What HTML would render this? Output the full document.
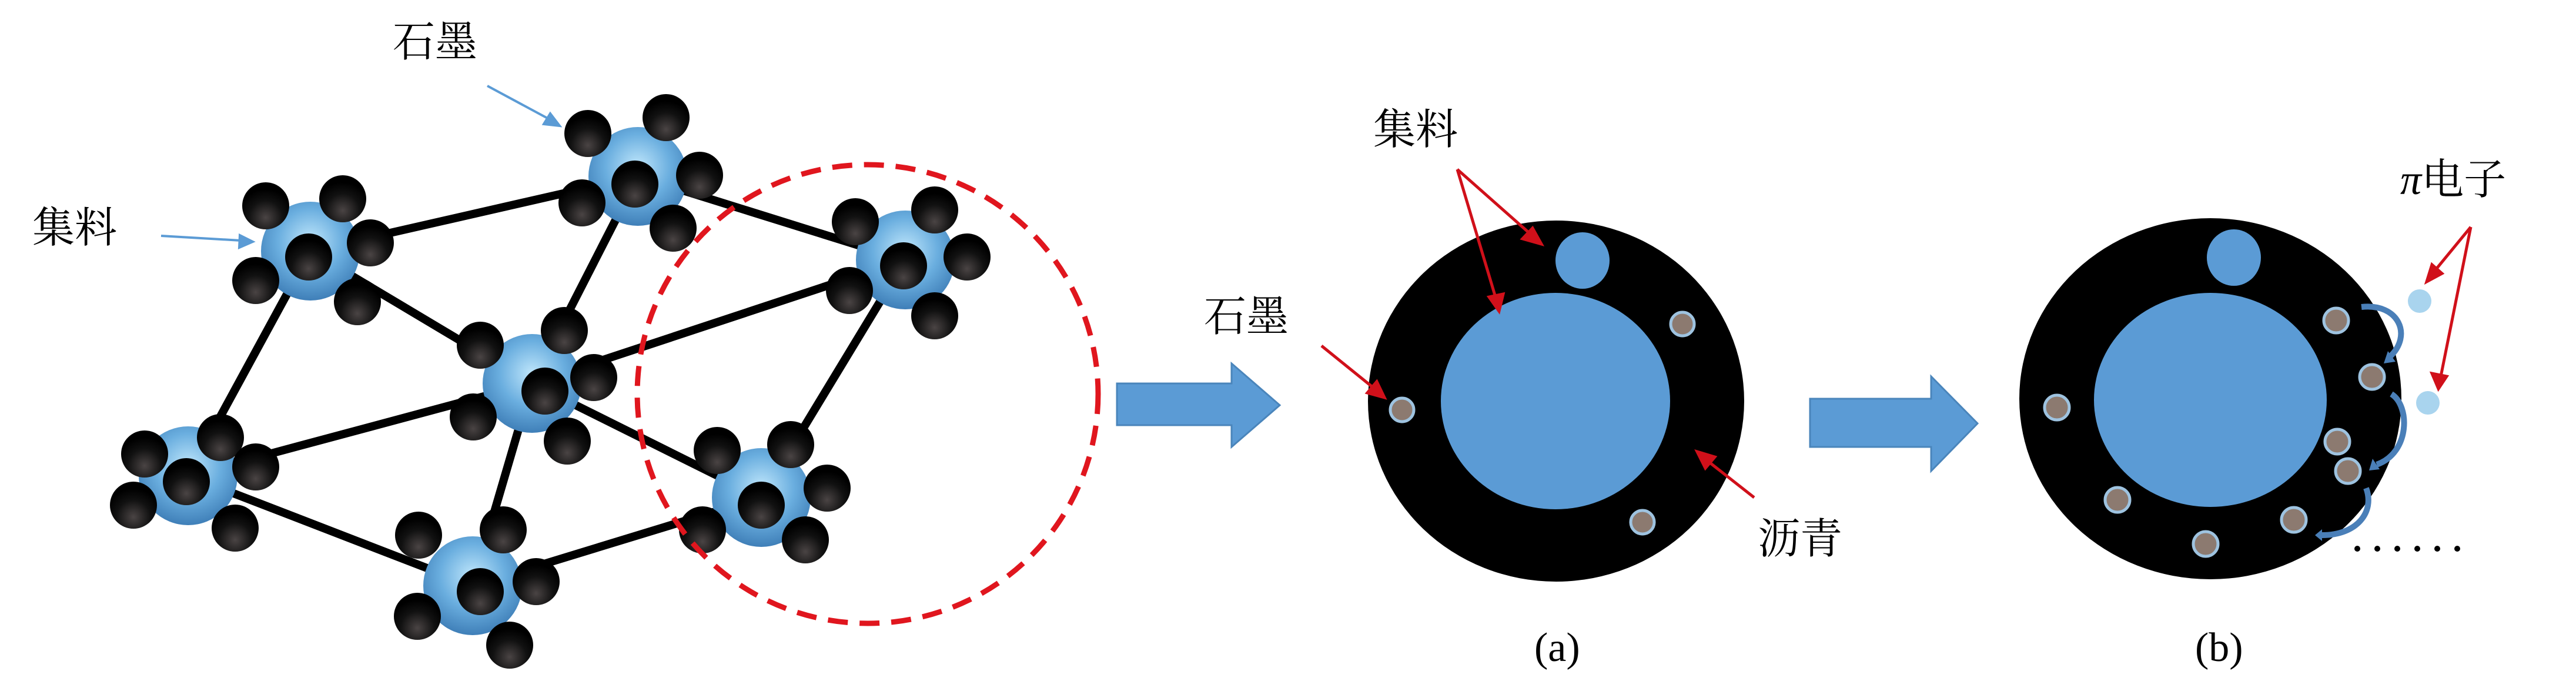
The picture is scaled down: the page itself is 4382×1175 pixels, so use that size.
<!DOCTYPE html>
<html><head><meta charset="utf-8"><style>
html,body{margin:0;padding:0;background:#fff;}
svg{display:block;}
.cj{font-family:"Liberation Serif","Noto Serif CJK SC",serif;font-size:72px;fill:#000;}
</style></head><body>
<svg width="4382" height="1175" viewBox="0 0 4382 1175" xmlns="http://www.w3.org/2000/svg">
<defs>
<radialGradient id="sph" cx="0.5" cy="0.4" r="0.6">
<stop offset="0" stop-color="#bfe6fb"/><stop offset="0.55" stop-color="#6aaedf"/><stop offset="1" stop-color="#3f7fb8"/>
</radialGradient>
<radialGradient id="bal" cx="0.5" cy="0.75" r="0.6">
<stop offset="0" stop-color="#4a4444"/><stop offset="0.6" stop-color="#111"/><stop offset="1" stop-color="#000"/>
</radialGradient>
</defs>

<g stroke="#000" stroke-width="14" stroke-linecap="round">
<line x1="528" y1="427" x2="1085" y2="300"/>
<line x1="528" y1="427" x2="905" y2="652"/>
<line x1="528" y1="427" x2="320" y2="809"/>
<line x1="1085" y1="300" x2="905" y2="652"/>
<line x1="1085" y1="300" x2="1540" y2="442"/>
<line x1="1540" y1="442" x2="905" y2="652"/>
<line x1="1540" y1="442" x2="1295" y2="846"/>
<line x1="905" y1="652" x2="1295" y2="846"/>
<line x1="905" y1="652" x2="320" y2="809"/>
<line x1="905" y1="652" x2="804" y2="996"/>
<line x1="320" y1="809" x2="804" y2="996"/>
<line x1="804" y1="996" x2="1295" y2="846"/>
</g>

<g>
<g transform="translate(528,427)">
<circle r="84" fill="url(#sph)"/>
<g fill="url(#bal)"><circle cx="-76" cy="-77" r="40"/><circle cx="55" cy="-89" r="40"/><circle cx="102" cy="-14" r="40"/><circle cx="-3" cy="10" r="40"/><circle cx="-93" cy="50" r="40"/><circle cx="80" cy="86" r="40"/></g>
</g>
<g transform="translate(1085,300)">
<circle r="84" fill="url(#sph)"/>
<g fill="url(#bal)"><circle cx="-85" cy="-73" r="40"/><circle cx="48" cy="-100" r="40"/><circle cx="105" cy="-2" r="40"/><circle cx="-5" cy="13" r="40"/><circle cx="-95" cy="45" r="40"/><circle cx="60" cy="88" r="40"/></g>
</g>
<g transform="translate(1540,442)">
<circle r="84" fill="url(#sph)"/>
<g fill="url(#bal)"><circle cx="-85" cy="-65" r="40"/><circle cx="50" cy="-85" r="40"/><circle cx="105" cy="-5" r="40"/><circle cx="-3" cy="10" r="40"/><circle cx="-95" cy="52" r="40"/><circle cx="50" cy="95" r="40"/></g>
</g>
<g transform="translate(905,652)">
<circle r="84" fill="url(#sph)"/>
<g fill="url(#bal)"><circle cx="-88" cy="-65" r="40"/><circle cx="55" cy="-90" r="40"/><circle cx="105" cy="-10" r="40"/><circle cx="22" cy="13" r="40"/><circle cx="-100" cy="57" r="40"/><circle cx="60" cy="98" r="40"/></g>
</g>
<g transform="translate(320,809)">
<circle r="84" fill="url(#sph)"/>
<g fill="url(#bal)"><circle cx="-74" cy="-37" r="40"/><circle cx="55" cy="-65" r="40"/><circle cx="115" cy="-15" r="40"/><circle cx="-3" cy="10" r="40"/><circle cx="-93" cy="50" r="40"/><circle cx="80" cy="89" r="40"/></g>
</g>
<g transform="translate(1295,846)">
<circle r="84" fill="url(#sph)"/>
<g fill="url(#bal)"><circle cx="-75" cy="-80" r="40"/><circle cx="50" cy="-90" r="40"/><circle cx="112" cy="-16" r="40"/><circle cx="0" cy="13" r="40"/><circle cx="-100" cy="55" r="40"/><circle cx="75" cy="72" r="40"/></g>
</g>
<g transform="translate(804,996)">
<circle r="84" fill="url(#sph)"/>
<g fill="url(#bal)"><circle cx="-92" cy="-86" r="40"/><circle cx="52" cy="-95" r="40"/><circle cx="108" cy="-7" r="40"/><circle cx="13" cy="10" r="40"/><circle cx="-94" cy="52" r="40"/><circle cx="63" cy="101" r="40"/></g>
</g>
</g>

<ellipse cx="1476" cy="670" rx="392" ry="390" fill="none" stroke="#e0161e" stroke-width="9" stroke-dasharray="34,20"/>

<text class="cj" x="668" y="96">石墨</text>
<text class="cj" x="55" y="412">集料</text>
<g stroke="#5b9bd5" stroke-width="4" fill="#5b9bd5">
<line x1="829" y1="146" x2="935" y2="203"/><polygon points="952,214 925,211 936,193"/>
<line x1="274" y1="401" x2="410" y2="409"/><polygon points="430,411 408,400 407,421"/>
</g>

<polygon points="1900,652 2095,652 2095,618 2177,689 2095,760 2095,723 1900,723" fill="#5b9bd5" stroke="#4a85bb" stroke-width="3"/>
<polygon points="3079,678 3285,678 3285,640 3364,720 3285,801 3285,760 3079,760" fill="#5b9bd5" stroke="#4a85bb" stroke-width="3"/>

<ellipse cx="2647" cy="682" rx="320" ry="307" fill="#000"/>
<ellipse cx="2646" cy="682" rx="195" ry="184" fill="#5b9bd5"/>
<ellipse cx="2692" cy="443" rx="46" ry="48" fill="#5b9bd5"/>
<g fill="#8c7a70" stroke="#9ec3e0" stroke-width="5">
<circle cx="2862" cy="551" r="20"/><circle cx="2385" cy="697" r="20"/><circle cx="2794" cy="888" r="20"/>
</g>
<text class="cj" x="2336" y="245">集料</text>
<text class="cj" x="2048" y="563">石墨</text>
<text class="cj" x="2990" y="941">沥青</text>
<text x="2610" y="1124" style="font-family:'Liberation Serif',serif;font-size:70px;">(a)</text>
<g stroke="#d0101a" stroke-width="5" fill="#d0101a">
<line x1="2479" y1="288" x2="2608" y2="402"/><polygon points="2622,415 2590,406 2607,388"/>
<line x1="2479" y1="288" x2="2546" y2="512"/><polygon points="2550,529 2533,505 2557,500"/>
<line x1="2248" y1="588" x2="2342" y2="664"/><polygon points="2355,676 2326,668 2342,649"/>
<line x1="2984" y1="846" x2="2900" y2="780"/><polygon points="2887,768 2917,777 2901,796"/>
</g>

<ellipse cx="3760" cy="678" rx="325" ry="307" fill="#000"/>
<ellipse cx="3760" cy="680" rx="198" ry="182" fill="#5b9bd5"/>
<ellipse cx="3800" cy="438" rx="46" ry="48" fill="#5b9bd5"/>
<g fill="#8c7a70" stroke="#9ec3e0" stroke-width="5">
<circle cx="3974" cy="545" r="21"/><circle cx="3499" cy="693" r="21"/><circle cx="4035" cy="641" r="21"/>
<circle cx="3976" cy="751" r="21"/><circle cx="3994" cy="801" r="21"/><circle cx="3602" cy="850" r="21"/>
<circle cx="3902" cy="884" r="21"/><circle cx="3752" cy="925" r="21"/>
</g>
<g fill="none" stroke="#4a7fb8" stroke-width="10">
<path d="M4017,522 C4080,515 4105,570 4065,607"/>
<path d="M4068,670 C4100,690 4100,770 4043,790"/>
<path d="M4025,830 C4040,870 4010,910 3950,910"/>
</g>
<g fill="#4a7fb8">
<polygon points="4062,597 4075,615 4055,618"/>
<polygon points="4036,780 4048,798 4030,800"/>
<polygon points="3950,900 3950,920 3938,910"/>
</g>
<circle cx="4116" cy="512" r="20" fill="#a9d4ee"/>
<circle cx="4130" cy="685" r="20" fill="#a9d4ee"/>
<g stroke="#d0101a" stroke-width="5" fill="#d0101a">
<line x1="4203" y1="386" x2="4138" y2="465"/><polygon points="4128,479 4137,450 4154,465"/>
<line x1="4203" y1="386" x2="4151" y2="645"/><polygon points="4148,661 4137,635 4162,640"/>
</g>
<text x="4083" y="330" style="font-family:'Liberation Serif','Noto Serif CJK SC',serif;font-size:72px;"><tspan font-style="italic">π</tspan>电子</text>
<g fill="#000">
<circle cx="4010" cy="933" r="5"/><circle cx="4044" cy="933" r="5"/><circle cx="4078" cy="933" r="5"/>
<circle cx="4112" cy="933" r="5"/><circle cx="4146" cy="933" r="5"/><circle cx="4180" cy="933" r="5"/>
</g>
<text x="3734" y="1124" style="font-family:'Liberation Serif',serif;font-size:70px;">(b)</text>
</svg>
</body></html>
